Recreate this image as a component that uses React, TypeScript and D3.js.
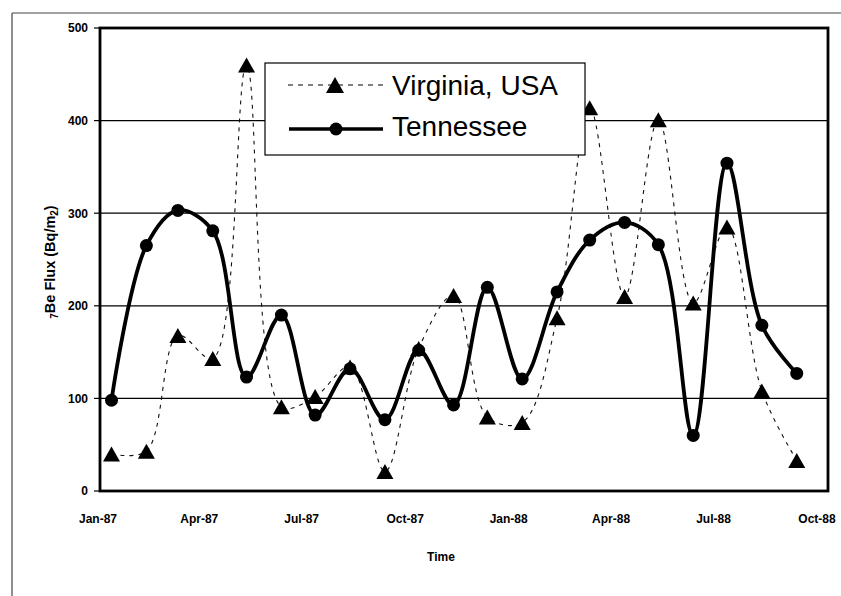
import React from "react";
import * as d3 from "d3";

const months: string[] = [
  "1987-01", "1987-02", "1987-03", "1987-04", "1987-05", "1987-06", "1987-07",
  "1987-08", "1987-09", "1987-10", "1987-11", "1987-12", "1988-01", "1988-02",
  "1988-03", "1988-04", "1988-05", "1988-06", "1988-07", "1988-08", "1988-09",
];
const virginia: number[] = [40, 43, 168, 143, 460, 91, 102, 134, 21, 154, 211, 80, 74, 187, 414, 210, 401, 203, 285, 108, 33];
const tennessee: number[] = [98, 265, 303, 281, 123, 190, 82, 132, 77, 152, 93, 220, 121, 215, 271, 290, 266, 60, 354, 179, 127];
const yTicks: number[] = [0, 100, 200, 300, 400, 500];
const xTickDates: string[] = ["1987-01-01", "1987-04-01", "1987-07-01", "1987-10-01", "1988-01-01", "1988-04-01", "1988-07-01", "1988-10-01"];
const seriesNames = { virginia: "Virginia, USA", tennessee: "Tennessee" };

const W = 841, H = 596;
const plot = { left: 100, right: 828, top: 28, bottom: 491 };

export default function App() {
  const parseDay = d3.timeParse("%Y-%m-%d");
  const x = d3.scaleTime()
    .domain([parseDay("1987-01-01")!, parseDay("1988-10-01")!])
    .range([98, 817]);
  const y = d3.scaleLinear().domain([0, 500]).range([plot.bottom, plot.top]);
  const pointDate = (m: string) => parseDay(m + "-13")!;
  const fmt = d3.timeFormat("%b-%y");

  const lineGen = d3.line<[Date, number]>()
    .x((d) => x(d[0]))
    .y((d) => y(d[1]))
    .curve(d3.curveCatmullRom.alpha(0.5));

  const vData: [Date, number][] = months.map((m, i) => [pointDate(m), virginia[i]]);
  const tData: [Date, number][] = months.map((m, i) => [pointDate(m), tennessee[i]]);

  const tri = (cx: number, cy: number, w = 17, h = 15) =>
    `M${cx - w / 2},${cy + h / 2}L${cx},${cy - h / 2}L${cx + w / 2},${cy + h / 2}Z`;

  const font = "'Liberation Sans', Arial, sans-serif";

  return (
    <svg width={W} height={H} style={{ position: "absolute", left: 0, top: 0, background: "#fff" }}
      fontFamily={font}>
      <rect x={0} y={0} width={W} height={H} fill="#fff" />
      {/* outer frame */}
      <line x1={12} y1={13} x2={W} y2={13} stroke="#444" strokeWidth={1.2} />
      <line x1={12} y1={13} x2={12} y2={H} stroke="#444" strokeWidth={1.2} />

      {/* gridlines */}
      {yTicks.filter((t) => t > 0 && t < 500).map((t) => (
        <line key={"g" + t} x1={plot.left} x2={plot.right} y1={y(t)} y2={y(t)} stroke="#000" strokeWidth={1.2} />
      ))}
      {/* y ticks & labels */}
      {yTicks.map((t) => (
        <g key={"y" + t}>
          <line x1={94} x2={plot.left} y1={y(t)} y2={y(t)} stroke="#000" strokeWidth={1.2} />
          <text x={88} y={y(t)} dy="0.36em" textAnchor="end" fontSize={12} fontWeight="bold">{t}</text>
        </g>
      ))}
      {/* x labels */}
      {xTickDates.map((s) => {
        const d = parseDay(s)!;
        return (
          <text key={s} x={x(d)} y={519} dy="0.36em" textAnchor="middle" fontSize={12} fontWeight="bold">{fmt(d)}</text>
        );
      })}
      {/* plot frame */}
      <rect x={plot.left} y={plot.top} width={plot.right - plot.left} height={plot.bottom - plot.top}
        fill="none" stroke="#000" strokeWidth={2.8} />

      {/* Virginia */}
      <path d={lineGen(vData) || ""} fill="none" stroke="#111" strokeWidth={1.1} strokeDasharray="4,5" />
      {vData.map((d, i) => (
        <path key={"v" + i} d={tri(x(d[0]), y(d[1]))} fill="#000" />
      ))}
      {/* Tennessee */}
      <path d={lineGen(tData) || ""} fill="none" stroke="#000" strokeWidth={3.8} />
      {tData.map((d, i) => (
        <circle key={"t" + i} cx={x(d[0])} cy={y(d[1])} r={6.5} fill="#000" />
      ))}

      {/* legend */}
      <rect x={265} y={63} width={320} height={92} fill="#fff" stroke="#000" strokeWidth={1.2} />
      <line x1={288} x2={383} y1={85} y2={85} stroke="#000" strokeWidth={1.1} strokeDasharray="5,5" />
      <path d={tri(335, 85, 18, 16)} fill="#000" />
      <text x={392} y={95} fontSize={28}>{seriesNames.virginia}</text>
      <line x1={289} x2={383} y1={129} y2={129} stroke="#000" strokeWidth={3.5} />
      <circle cx={336} cy={129} r={6.5} fill="#000" />
      <text x={392} y={136} fontSize={28}>{seriesNames.tennessee}</text>

      {/* axis titles */}
      <text transform="translate(55,262) rotate(-90)" textAnchor="middle" fontSize={14.5} fontWeight="bold" fill="#000">
        <tspan fontSize={10} dy="3">7</tspan>
        <tspan dy="-3">Be Flux (Bq/m</tspan>
        <tspan fontSize={10} dy="3">2</tspan>
        <tspan dy="-3">)</tspan>
      </text>
      <text x={441} y={557} dy="0.36em" textAnchor="middle" fontSize={12} fontWeight="bold">Time</text>
    </svg>
  );
}
